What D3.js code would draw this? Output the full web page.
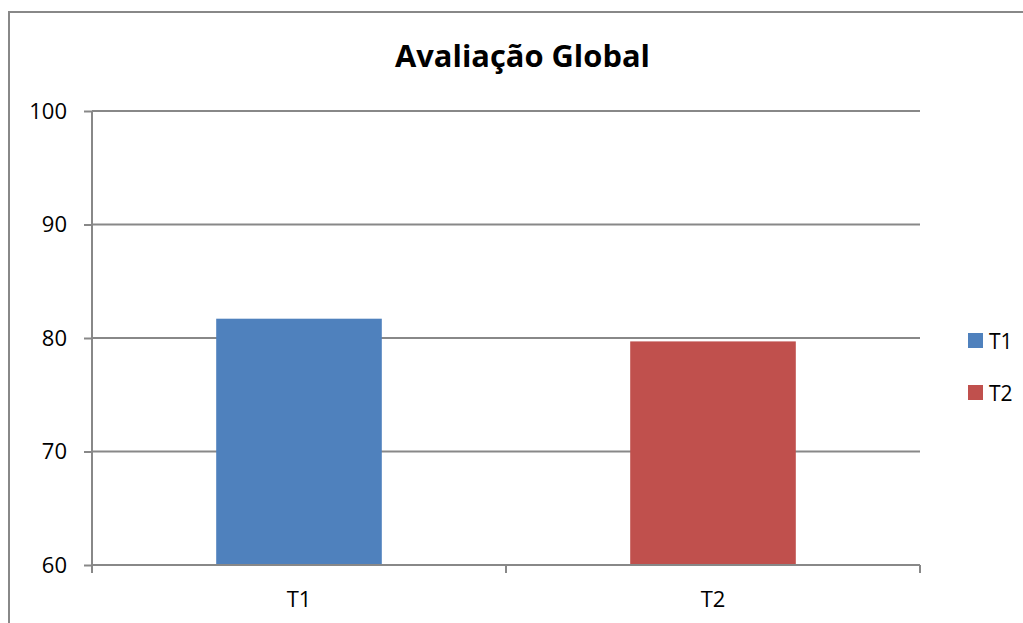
<!DOCTYPE html>
<html><head><meta charset="utf-8">
<script src="https://cdn.jsdelivr.net/npm/d3@7"></script>
<style>body{margin:0;background:#fff}svg{display:block}text{font-family:"Open Sans",sans-serif;fill:#000}</style>
</head><body>
<svg id="c" width="1023" height="623"></svg>
<script>
const title = "Avaliação Global";
const categories = ["T1","T2"];
const values = [81.7, 79.7];
const colors = ["#4F81BD","#C0504D"];
const yTicks = [60,70,80,90,100];

const svg = d3.select("#c");
const grid = "#888888";
// chart border
svg.append("path").attr("d","M9,623V12H1023").attr("fill","none").attr("stroke",grid).attr("stroke-width",2);

const y = d3.scaleLinear().domain([60,100]).range([565,111]);
const x = d3.scaleBand().domain(categories).range([92,920]).padding(0);

// gridlines
svg.append("g").selectAll("line").data(yTicks.filter(d=>d>60)).join("line")
  .attr("x1",92).attr("x2",920).attr("y1",d=>y(d)).attr("y2",d=>y(d))
  .attr("stroke",grid).attr("stroke-width",2);

// bars
svg.append("g").selectAll("rect").data(categories).join("rect")
  .attr("x",d=>x(d)+x.bandwidth()*0.3).attr("width",x.bandwidth()*0.4)
  .attr("y",(d,i)=>y(values[i])).attr("height",(d,i)=>y(60)-y(values[i]))
  .attr("fill",(d,i)=>colors[i]);

// left axis
const ya = svg.append("g").attr("transform","translate(92,0)")
  .call(d3.axisLeft(y).tickValues(yTicks).tickSize(8).tickPadding(17).tickFormat(d3.format("d")));
ya.select(".domain").attr("stroke",grid).attr("stroke-width",2).attr("d","M0,111V565");
ya.selectAll(".tick line").attr("stroke",grid).attr("stroke-width",2);
ya.selectAll(".tick text").style("font-size","22px").style("font-family","Open Sans").attr("fill","#000");

// bottom axis
const xa = svg.append("g").attr("transform","translate(0,565)")
  .call(d3.axisBottom(x).tickSize(0).tickPadding(26));
xa.select(".domain").attr("stroke",grid).attr("stroke-width",2).attr("d","M92,0H920");
xa.selectAll(".tick text").style("font-size","22px").style("font-family","Open Sans").attr("fill","#000");
const bounds = [x(categories[0]), ...categories.map(c=>x(c)+x.bandwidth())];
svg.append("g").selectAll("line").data(bounds).join("line")
  .attr("x1",d=>d).attr("x2",d=>d).attr("y1",565).attr("y2",573)
  .attr("stroke",grid).attr("stroke-width",2);

// title
const t = svg.append("text").attr("x",522.5).attr("y",67).attr("text-anchor","middle")
  .style("font-weight","bold").style("font-size","30px").text(title);
const w = t.node().getComputedTextLength();
t.style("font-size",(30*255/w)+"px");

// legend
const lg = svg.append("g").selectAll("g").data(categories).join("g")
  .attr("transform",(d,i)=>`translate(968,${333+i*52})`);
lg.append("rect").attr("width",15).attr("height",15).attr("fill",(d,i)=>colors[i]);
lg.append("text").attr("x",21).attr("y",8).attr("dy","0.36em").style("font-size","21px").text(d=>d);
</script>
</body></html>
